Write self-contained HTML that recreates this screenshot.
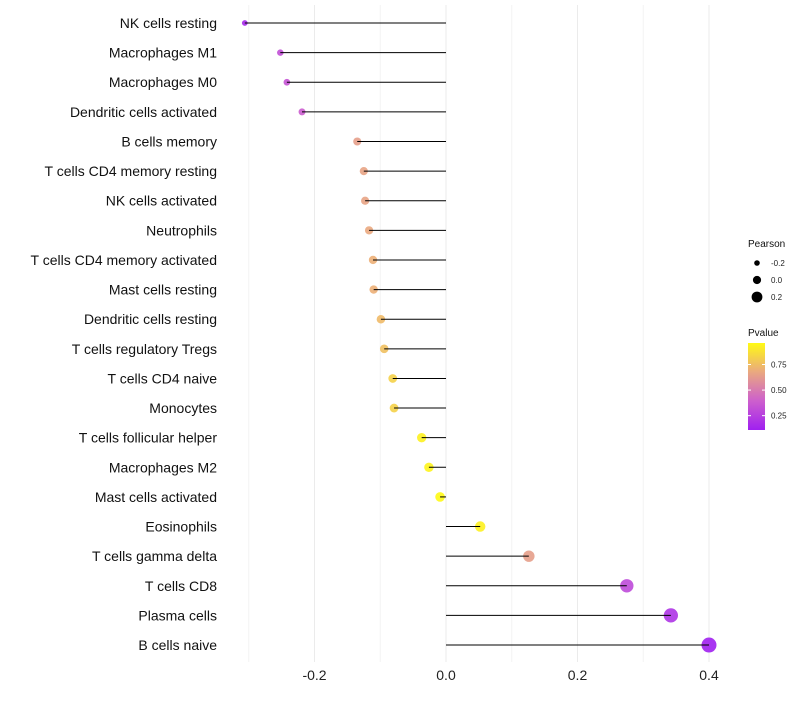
<!DOCTYPE html>
<html><head><meta charset="utf-8"><style>
body{margin:0;background:#fff;font-family:"Liberation Sans",sans-serif}
</style></head><body>
<svg id="chart" width="800" height="700"></svg>
<script>
const categories=["NK cells resting","Macrophages M1","Macrophages M0","Dendritic cells activated","B cells memory","T cells CD4 memory resting","NK cells activated","Neutrophils","T cells CD4 memory activated","Mast cells resting","Dendritic cells resting","T cells regulatory  Tregs ","T cells CD4 naive","Monocytes","T cells follicular helper","Macrophages M2","Mast cells activated","Eosinophils","T cells gamma delta","T cells CD8","Plasma cells","B cells naive"];
const pearson=[-0.306,-0.252,-0.242,-0.219,-0.135,-0.125,-0.123,-0.117,-0.111,-0.11,-0.099,-0.094,-0.081,-0.079,-0.037,-0.026,-0.009,0.052,0.126,0.275,0.342,0.4];
const pvalue=[0.15,0.32,0.34,0.38,0.64,0.66,0.66,0.68,0.7,0.7,0.74,0.76,0.82,0.82,0.93,0.94,1.0,0.93,0.64,0.3,0.2,0.11];
const xTicks=[-0.2,0.0,0.2,0.4];
const xMinor=[-0.3,-0.1,0.1,0.3];
const sizeLegend=[-0.2,0.0,0.2];
const colorTicks=[0.25,0.5,0.75];
const NS="http://www.w3.org/2000/svg",svg=document.getElementById("chart");
function el(t,a,p){const e=document.createElementNS(NS,t);for(const k in a)e.setAttribute(k,a[k]);(p||svg).appendChild(e);return e;}
const x=v=>446+v*657.5, y=i=>23+i*29.62, r=v=>Math.max(1.5,4.9+6.5*v);
const stops=[[160,32,240],[205,95,205],[234,168,128],[255,250,20]];
function col(p){const t=Math.max(0,Math.min(1,(p-0.11)/(0.96-0.11)))*3;
 const k=Math.min(2,Math.floor(t)),f=t-k,a=stops[k],b=stops[k+1];
 return `rgb(${a.map((c,i)=>Math.round(c+(b[i]-c)*f)).join(",")})`;}
xMinor.forEach(v=>{const g=el("line",{x1:x(v),x2:x(v),y1:5,y2:662,stroke:"#f3f3f3","stroke-width":1});

});
xTicks.forEach(v=>{const g=el("line",{x1:x(v),x2:x(v),y1:5,y2:662,stroke:"#ebebeb","stroke-width":1});


const t=el("text",{x:x(v),y:680,"text-anchor":"middle","font-size":14,fill:"#222"});t.textContent=v.toFixed(1);

});
categories.forEach((c,i)=>{
 const t=el("text",{x:217,y:y(i)+5,"text-anchor":"end","font-size":14,fill:"#111"});t.textContent=c;
 
 
 const d=el("circle",{cx:x(pearson[i]),cy:y(i),r:r(pearson[i]),fill:col(pvalue[i]),"fill-opacity":0.9});
 
 
 const l=el("line",{x1:x(0),x2:x(pearson[i]),y1:y(i),y2:y(i),stroke:"#000","stroke-width":1});
 
 
});
let t=el("text",{x:748,y:247,"font-size":10,fill:"#111"});t.textContent="Pearson";


sizeLegend.forEach((v,i)=>{const cy=263+i*17;
 const c=el("circle",{cx:757,cy:cy,r:r(v)-0.8,fill:"#000"});
 
 
 const s=el("text",{x:771,y:cy+3,"font-size":8,fill:"#222"});s.textContent=v.toFixed(1);
 
 });
t=el("text",{x:748,y:336,"font-size":10,fill:"#111"});t.textContent="Pvalue";


const defs=el("defs",{});const gr=el("linearGradient",{id:"pg",x1:0,y1:1,x2:0,y2:0},defs);
[0,1/3,2/3,1].forEach(o=>el("stop",{offset:o,"stop-color":col(0.11+o*0.85)},gr));
const bar=el("rect",{x:748,y:343,width:17,height:87,fill:"url(#pg)"});


colorTicks.forEach(v=>{const cy=430-(v-0.11)/0.85*87;
 el("line",{x1:748,x2:751,y1:cy,y2:cy,stroke:"#fff"});el("line",{x1:762,x2:765,y1:cy,y2:cy,stroke:"#fff"});
 const s=el("text",{x:771,y:cy+3,"font-size":8,fill:"#222"});s.textContent=v.toFixed(2);
 
 });
</script>
</body></html>
